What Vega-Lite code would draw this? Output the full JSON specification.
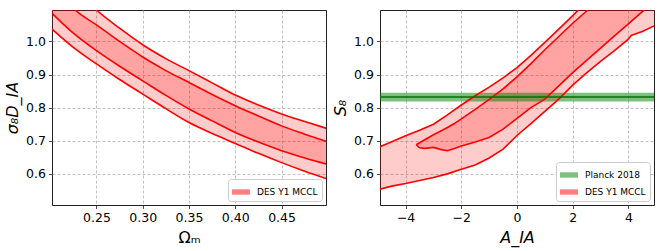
{
  "$schema": "https://vega.github.io/schema/vega-lite/v6.json",
  "padding": {"left": 4, "top": 9, "right": 10, "bottom": 4},
  "datasets": {
    "left": [
      {"om": 0.202, "o_hi": 1.24, "i_hi": 1.18, "i_lo": 1.085, "o_lo": 1.037},
      {"om": 0.225, "o_hi": 1.165, "i_hi": 1.10, "i_lo": 1.025, "o_lo": 0.982},
      {"om": 0.25, "o_hi": 1.095, "i_hi": 1.05, "i_lo": 0.972, "o_lo": 0.932},
      {"om": 0.275, "o_hi": 1.04, "i_hi": 1.0, "i_lo": 0.925, "o_lo": 0.885},
      {"om": 0.30, "o_hi": 0.99, "i_hi": 0.953, "i_lo": 0.881, "o_lo": 0.841},
      {"om": 0.325, "o_hi": 0.948, "i_hi": 0.912, "i_lo": 0.837, "o_lo": 0.797},
      {"om": 0.35, "o_hi": 0.912, "i_hi": 0.876, "i_lo": 0.796, "o_lo": 0.755},
      {"om": 0.375, "o_hi": 0.875, "i_hi": 0.84, "i_lo": 0.76, "o_lo": 0.722},
      {"om": 0.40, "o_hi": 0.838, "i_hi": 0.806, "i_lo": 0.725, "o_lo": 0.692},
      {"om": 0.425, "o_hi": 0.808, "i_hi": 0.775, "i_lo": 0.696, "o_lo": 0.662},
      {"om": 0.45, "o_hi": 0.781, "i_hi": 0.745, "i_lo": 0.67, "o_lo": 0.634},
      {"om": 0.475, "o_hi": 0.758, "i_hi": 0.72, "i_lo": 0.648, "o_lo": 0.608},
      {"om": 0.498, "o_hi": 0.738, "i_hi": 0.698, "i_lo": 0.63, "o_lo": 0.586}
    ],
    "r_outer": [
      {"a": -4.92, "hi": 0.682, "lo": 0.554},
      {"a": -4.5, "hi": 0.697, "lo": 0.563},
      {"a": -4.0, "hi": 0.715, "lo": 0.571},
      {"a": -3.5, "hi": 0.732, "lo": 0.58},
      {"a": -3.0, "hi": 0.75, "lo": 0.589},
      {"a": -2.5, "hi": 0.778, "lo": 0.6},
      {"a": -2.0, "hi": 0.808, "lo": 0.614},
      {"a": -1.5, "hi": 0.836, "lo": 0.627},
      {"a": -1.0, "hi": 0.862, "lo": 0.648},
      {"a": -0.5, "hi": 0.89, "lo": 0.675},
      {"a": 0.0, "hi": 0.921, "lo": 0.716},
      {"a": 0.5, "hi": 0.958, "lo": 0.752},
      {"a": 1.0, "hi": 0.997, "lo": 0.789},
      {"a": 1.5, "hi": 1.037, "lo": 0.826},
      {"a": 2.0, "hi": 1.078, "lo": 0.868},
      {"a": 2.5, "hi": 1.12, "lo": 0.905},
      {"a": 3.0, "hi": 1.16, "lo": 0.94},
      {"a": 3.5, "hi": 1.2, "lo": 0.972},
      {"a": 4.0, "hi": 1.24, "lo": 1.007},
      {"a": 4.1, "hi": 1.25, "lo": 1.018},
      {"a": 4.5, "hi": 1.28, "lo": 1.03},
      {"a": 4.92, "hi": 1.32, "lo": 1.047}
    ],
    "r_inner": [
      {"a": -3.62, "hi": 0.688, "lo": 0.688},
      {"a": -3.5, "hi": 0.694, "lo": 0.679},
      {"a": -3.3, "hi": 0.704, "lo": 0.677},
      {"a": -3.0, "hi": 0.718, "lo": 0.68},
      {"a": -2.75, "hi": 0.729, "lo": 0.674},
      {"a": -2.5, "hi": 0.74, "lo": 0.67},
      {"a": -2.25, "hi": 0.752, "lo": 0.677},
      {"a": -2.0, "hi": 0.766, "lo": 0.684},
      {"a": -1.5, "hi": 0.795, "lo": 0.696},
      {"a": -1.0, "hi": 0.825, "lo": 0.71},
      {"a": -0.5, "hi": 0.857, "lo": 0.735},
      {"a": 0.0, "hi": 0.893, "lo": 0.768},
      {"a": 0.5, "hi": 0.933, "lo": 0.8},
      {"a": 1.0, "hi": 0.975, "lo": 0.826},
      {"a": 1.5, "hi": 1.015, "lo": 0.866},
      {"a": 2.0, "hi": 1.055, "lo": 0.906},
      {"a": 2.5, "hi": 1.092, "lo": 0.943},
      {"a": 3.0, "hi": 1.13, "lo": 0.98},
      {"a": 3.5, "hi": 1.17, "lo": 1.017},
      {"a": 4.0, "hi": 1.21, "lo": 1.053},
      {"a": 4.5, "hi": 1.25, "lo": 1.09},
      {"a": 4.92, "hi": 1.29, "lo": 1.12}
    ],
    "planck": [
      {"s8": 0.832, "lo": 0.819, "hi": 0.845}
    ]
  },
  "hconcat": [
    {
      "width": 274,
      "height": 195,
      "data": {"name": "left"},
      "layer": [
        {
          "mark": {"type": "area", "fillOpacity": 0.2, "clip": true, "interpolate": "monotone"},
          "encoding": {
            "x": {"field": "om", "type": "quantitative", "scale": {"domain": [0.202, 0.498], "nice": false, "zero": false},
                  "axis": {"title": "Ωₘ", "values": [0.25, 0.3, 0.35, 0.4, 0.45], "format": ".2f"}},
            "y": {"field": "o_lo", "type": "quantitative", "scale": {"domain": [0.506, 1.095], "nice": false, "zero": false},
                  "axis": {"title": "σ₈D_IA", "values": [0.6, 0.7, 0.8, 0.9, 1.0], "format": ".1f", "titleFontStyle": "italic"}},
            "y2": {"field": "o_hi"},
            "color": {"datum": "DES Y1 MCCL", "type": "nominal", "scale": {"domain": ["DES Y1 MCCL"], "range": ["#ff0000"]},
                      "legend": {"title": null, "orient": "bottom-right", "offset": 4, "symbolOpacity": 0.5}}
          }
        },
        {
          "mark": {"type": "area", "color": "#ff0000", "fillOpacity": 0.2, "clip": true, "interpolate": "monotone"},
          "encoding": {
            "x": {"field": "om", "type": "quantitative"},
            "y": {"field": "i_lo", "type": "quantitative", "axis": {"title": "σ₈D_IA"}},
            "y2": {"field": "i_hi"}
          }
        },
        {
          "transform": [{"fold": ["o_hi", "i_hi", "i_lo", "o_lo"], "as": ["b", "v"]}],
          "mark": {"type": "line", "color": "#ff0000", "strokeWidth": 1.6, "clip": true, "interpolate": "monotone"},
          "encoding": {
            "x": {"field": "om", "type": "quantitative"},
            "y": {"field": "v", "type": "quantitative", "axis": {"title": "σ₈D_IA"}},
            "detail": {"field": "b", "type": "nominal"}
          }
        }
      ]
    },
    {
      "width": 274,
      "height": 195,
      "layer": [
        {
          "data": {"name": "r_outer"},
          "mark": {"type": "area", "fillOpacity": 0.2, "clip": true},
          "encoding": {
            "x": {"field": "a", "type": "quantitative", "scale": {"domain": [-4.92, 4.92], "nice": false, "zero": false},
                  "axis": {"title": "A_IA", "values": [-4, -2, 0, 2, 4], "titleFontStyle": "italic"}},
            "y": {"field": "lo", "type": "quantitative", "scale": {"domain": [0.506, 1.095], "nice": false, "zero": false},
                  "axis": {"title": "S₈", "values": [0.6, 0.7, 0.8, 0.9, 1.0], "format": ".1f", "titleFontStyle": "italic"}},
            "y2": {"field": "hi"},
            "color": {"datum": "DES Y1 MCCL", "type": "nominal",
                      "scale": {"domain": ["Planck 2018", "DES Y1 MCCL"], "range": ["#008000", "#ff0000"]},
                      "legend": {"title": null, "orient": "bottom-right", "offset": 4, "symbolOpacity": 0.5}}
          }
        },
        {
          "data": {"name": "r_inner"},
          "mark": {"type": "area", "color": "#ff0000", "fillOpacity": 0.2, "clip": true},
          "encoding": {
            "x": {"field": "a", "type": "quantitative", "axis": {"title": "A_IA"}},
            "y": {"field": "lo", "type": "quantitative", "axis": {"title": "S₈"}},
            "y2": {"field": "hi"}
          }
        },
        {
          "data": {"name": "planck"},
          "mark": {"type": "rect", "opacity": 0.5},
          "encoding": {
            "y": {"field": "lo", "type": "quantitative", "axis": {"title": "S₈"}},
            "y2": {"field": "hi"},
            "color": {"datum": "Planck 2018", "type": "nominal"}
          }
        },
        {
          "data": {"name": "r_outer"},
          "transform": [{"fold": ["hi", "lo"], "as": ["b", "v"]}],
          "mark": {"type": "line", "color": "#ff0000", "strokeWidth": 1.6, "clip": true},
          "encoding": {
            "x": {"field": "a", "type": "quantitative", "axis": {"title": "A_IA"}},
            "y": {"field": "v", "type": "quantitative", "axis": {"title": "S₈"}},
            "detail": {"field": "b", "type": "nominal"}
          }
        },
        {
          "data": {"name": "r_inner"},
          "transform": [{"fold": ["hi", "lo"], "as": ["b", "v"]}],
          "mark": {"type": "line", "color": "#ff0000", "strokeWidth": 1.6, "clip": true},
          "encoding": {
            "x": {"field": "a", "type": "quantitative", "axis": {"title": "A_IA"}},
            "y": {"field": "v", "type": "quantitative", "axis": {"title": "S₈"}},
            "detail": {"field": "b", "type": "nominal"}
          }
        },
        {
          "data": {"name": "planck"},
          "mark": {"type": "rule", "color": "#007000", "strokeWidth": 1.5},
          "encoding": {
            "y": {"field": "s8", "type": "quantitative", "axis": {"title": "S₈"}}
          }
        }
      ]
    }
  ],
  "spacing": 54,
  "bounds": "flush",
  "resolve": {"scale": {"color": "independent", "x": "independent", "y": "independent"}, "legend": {"color": "independent"}},
  "config": {
    "font": "DejaVu Sans",
    "background": "white",
    "view": {"stroke": "#222222", "strokeWidth": 1},
    "axis": {
      "domain": false,
      "grid": true,
      "gridColor": "#b0b0b0",
      "gridDash": [3, 2],
      "gridWidth": 0.8,
      "ticks": true,
      "tickColor": "#222222",
      "tickSize": 3.5,
      "tickWidth": 0.8,
      "labelFont": "DejaVu Sans",
      "labelFontSize": 12.5,
      "labelColor": "#000000",
      "labelPadding": 3,
      "labelFlush": false,
      "labelOverlap": false,
      "titleFont": "DejaVu Sans",
      "titleFontSize": 16,
      "titleFontWeight": "normal",
      "titleColor": "#000000",
      "titlePadding": 5
    },
    "legend": {
      "labelFont": "DejaVu Sans",
      "labelFontSize": 9,
      "labelColor": "#000000",
      "labelOffset": 7,
      "symbolType": "M-1,-0.3H1V0.3H-1Z",
      "symbolSize": 324,
      "symbolStrokeWidth": 0,
      "padding": 4,
      "rowPadding": 3,
      "strokeColor": "#cccccc",
      "fillColor": "white",
      "cornerRadius": 3
    }
  }
}
